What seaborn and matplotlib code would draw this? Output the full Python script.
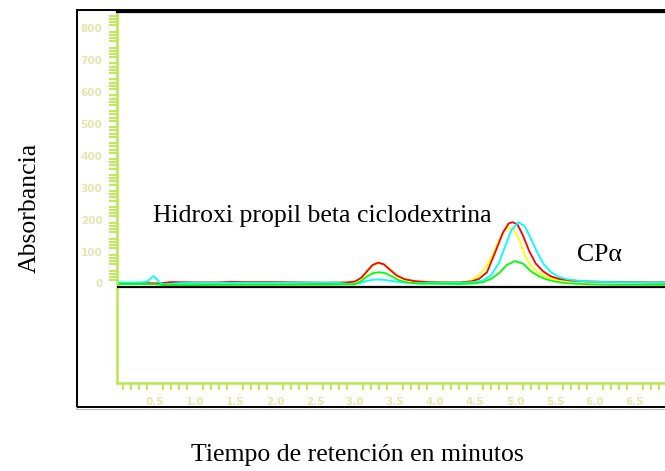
import numpy as np
import pandas as pd
import matplotlib
matplotlib.use("Agg")
import matplotlib.pyplot as plt
import seaborn as sns
from matplotlib.patches import Rectangle
from matplotlib.ticker import MultipleLocator, FixedLocator

# ---- data ----
t_red = [0.03, 0.35, 0.55, 0.7, 1.0, 1.3, 1.45, 1.6, 2.0, 2.3, 2.6, 2.9, 3.0, 3.08, 3.15, 3.22, 3.29, 3.36,
         3.44, 3.52, 3.62, 3.75, 3.9, 4.1, 4.3, 4.45, 4.55, 4.65, 4.75, 4.85, 4.92, 4.97, 5.03, 5.1, 5.18,
         5.26, 5.35, 5.45, 5.55, 5.7, 5.9, 6.1, 6.4, 6.7, 6.875]
v_red = [1, 1, 0, 4, 3, 3, 5, 4, 4, 3, 2, 3, 6, 18, 38, 58, 65, 60,
         42, 25, 13, 7, 4, 3, 3, 6, 14, 35, 96, 160, 188, 192, 185, 150, 100,
         62, 38, 22, 14, 9, 6, 5, 4, 3, 3]

t_yel = [0.03, 0.35, 0.5, 0.7, 1.0, 1.3, 1.6, 2.0, 2.3, 2.6, 2.9, 3.0, 3.08, 3.15, 3.22, 3.29, 3.36, 3.44,
         3.52, 3.62, 3.75, 3.9, 4.1, 4.3, 4.42, 4.52, 4.62, 4.72, 4.8, 4.87, 4.92, 4.98, 5.05, 5.12, 5.2,
         5.3, 5.4, 5.5, 5.65, 5.85, 6.1, 6.4, 6.7, 6.875]
v_yel = [0, 0, -2, 2, 2, 3, 3, 3, 2, 2, 2, 5, 16, 36, 56, 63, 60, 44,
         26, 14, 7, 4, 3, 3, 7, 18, 45, 88, 135, 165, 176, 170, 140, 90, 55,
         32, 20, 13, 8, 6, 4, 4, 3, 3]

t_cyan = [0.03, 0.3, 0.4, 0.44, 0.48, 0.52, 0.56, 0.62, 0.8, 1.2, 1.6, 2.0, 2.4, 2.8, 2.95, 3.05, 3.15,
          3.25, 3.3, 3.4, 3.5, 3.65, 3.8, 4.0, 4.3, 4.5, 4.6, 4.7, 4.8, 4.88, 4.95, 5.04, 5.12, 5.2,
          5.28, 5.36, 5.45, 5.55, 5.65, 5.8, 6.0, 6.3, 6.6, 6.875]
v_cyan = [3, 3, 5, 14, 23, 14, 2, -3, 1, 2, 2, 2, 3, 2, -3, 0, 8,
          12, 12, 10, 6, 2, 1, 2, 2, 4, 10, 25, 65, 118, 165, 192, 180, 140,
          96, 60, 35, 20, 13, 8, 5, 4, 3, 3]

t_grn = [0.03, 0.5, 0.6, 1.0, 1.5, 2.0, 2.5, 3.0, 3.08, 3.15, 3.22, 3.3, 3.38, 3.46, 3.55, 3.65, 3.8,
         4.0, 4.3, 4.5, 4.6, 4.7, 4.8, 4.9, 5.0, 5.1, 5.2, 5.3, 5.4, 5.5, 5.6, 5.75, 5.95, 6.2, 6.5, 6.875]
v_grn = [-2, -2, -5, -5, -4, -4, -4, -3, 8, 22, 32, 35, 32, 22, 10, 3, -1,
         -1, -2, 0, 4, 14, 32, 58, 70, 62, 38, 22, 12, 6, 2, -1, -3, -4, -4, -4]

series_names = ["amarillo", "rojo", "cian", "verde"]
series_colors = ["#ffff00", "#ff0000", "#00ffff", "#00ff00"]
x_ticks = [0.5, 1.0, 1.5, 2.0, 2.5, 3.0, 3.5, 4.0, 4.5, 5.0, 5.5, 6.0, 6.5]
y_ticks = [0, 100, 200, 300, 400, 500, 600, 700, 800]
baseline_value = -12.5

xlabel = "Tiempo de retención en minutos"
ylabel = "Absorbancia"
peak_label_1 = "Hidroxi propil beta ciclodextrina"
peak_label_2 = "CPα"

frames = []
for name, t, v in zip(series_names, [t_yel, t_red, t_cyan, t_grn], [v_yel, v_red, v_cyan, v_grn]):
    frames.append(pd.DataFrame({"t": t, "v": v, "serie": name}))
df = pd.concat(frames, ignore_index=True)

# ---- figure ----
sns.set_style("white")
plt.rcParams["font.family"] = ["Liberation Serif", "DejaVu Serif"]
plt.rcParams["text.color"] = "black"

W, H = 665, 471
fig = plt.figure(figsize=(W / 100, H / 100), dpi=100)

def fx(px):
    return px / W

def fy(py):
    return 1 - py / H

ax_left, ax_top, ax_bottom = 117, 11.5, 383
ax = fig.add_axes([fx(ax_left), fy(ax_bottom), 1 - fx(ax_left), fy(ax_top) - fy(ax_bottom)])

sns.lineplot(data=df, x="t", y="v", hue="serie", hue_order=series_names,
             palette=dict(zip(series_names, series_colors)), sort=False, estimator=None,
             legend=False, linewidth=1.3, ax=ax)
ax.axhline(baseline_value, color="black", lw=1.6, zorder=5)

ax.set_xlim(0.025, 6.875)
ax.set_ylim(-312.5, 853)
ax.set_xlabel("")
ax.set_ylabel("")

axis_col = "#b9e84a"
lab_col = "#e3e7ad"
ax.xaxis.set_major_locator(FixedLocator(x_ticks))
ax.xaxis.set_minor_locator(FixedLocator([round(0.1 * i, 1) for i in range(1, 69)]))
ax.yaxis.set_major_locator(FixedLocator([50 * i for i in range(0, 18)]))
ax.yaxis.set_minor_locator(FixedLocator([10 * i for i in range(0, 86)]))
ax.set_xticklabels([f"{v:.1f}" for v in x_ticks])
ax.set_yticklabels([str(v) if v in y_ticks else "" for v in [50 * i for i in range(0, 18)]])
ax.tick_params(axis="both", which="major", direction="out", color=axis_col, width=1.3,
               labelcolor=lab_col, labelsize=7.5)
ax.tick_params(axis="x", which="major", length=9, pad=1.0)
ax.tick_params(axis="y", which="major", length=10, pad=0.5)
ax.tick_params(axis="x", which="minor", length=5, width=1.3, color=axis_col, bottom=True)
ax.tick_params(axis="y", which="minor", length=6, width=1.3, color=axis_col, left=True)
for lab in ax.get_xticklabels() + ax.get_yticklabels():
    lab.set_fontfamily("DejaVu Sans")
    lab.set_fontweight("bold")

for s in ["left", "bottom"]:
    ax.spines[s].set_color(axis_col)
    ax.spines[s].set_linewidth(1.8)
ax.spines["top"].set_color("black")
ax.spines["top"].set_linewidth(1.6)
ax.spines["right"].set_visible(False)

# outer frame
fig.patches.append(Rectangle((fx(77), fy(407)), 1.0, fy(9.5) - fy(407), transform=fig.transFigure,
                             fill=False, edgecolor="black", lw=1.4, clip_on=False))
fig.patches.append(Rectangle((fx(75.5), fy(408.5)), 1.0, fy(9.5) - fy(408.5), transform=fig.transFigure,
                             fill=False, edgecolor="#bbbbbb", lw=0.8, clip_on=False, zorder=-1))

fs = 18.5
fig.text(fx(153), fy(216), peak_label_1, fontsize=fs, ha="left", va="center", color="black")
fig.text(fx(577), fy(255), peak_label_2, fontsize=fs, ha="left", va="center", color="black")
fig.text(fx(357), fy(455), xlabel, fontsize=fs, ha="center", va="center", color="black")
fig.text(fx(30), fy(208), ylabel, fontsize=fs, ha="center", va="center", rotation=90, color="black")

fig.savefig("out.png", dpi=100)
